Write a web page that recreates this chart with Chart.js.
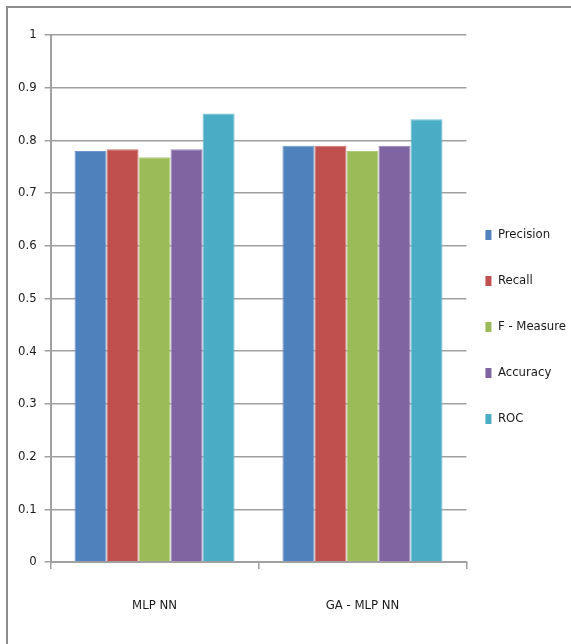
<!DOCTYPE html>
<html>
<head>
<meta charset="utf-8">
<script src="https://cdn.jsdelivr.net/npm/chart.js@4/dist/chart.umd.min.js"></script>
<style>
  html, body { margin: 0; padding: 0; background: #fff; }
  #wrap { position: relative; width: 571px; height: 644px; overflow: hidden; }
  #frame {
    position: absolute; left: 6px; top: 6px; width: 700px; height: 800px;
    border-top: 2px solid #8c8c8c; border-left: 2px solid #8c8c8c;
  }
  #c { position: absolute; left: 0; top: 0; }
</style>
</head>
<body>
<div id="wrap">
  <div id="frame"></div>
  <canvas id="c" width="571" height="644"></canvas>
</div>
<script>
// Classifier comparison: evaluation metrics per model
const categories = ['MLP NN', 'GA - MLP NN'];
const seriesNames = ['Precision', 'Recall', 'F - Measure', 'Accuracy', 'ROC'];
const precision = [0.780, 0.790];
const recall    = [0.783, 0.790];
const fMeasure  = [0.768, 0.780];
const accuracy  = [0.783, 0.790];
const roc       = [0.851, 0.840];
const yTickLabels = ['0', '0.1', '0.2', '0.3', '0.4', '0.5', '0.6', '0.7', '0.8', '0.9', '1'];

const seriesValues = [precision, recall, fMeasure, accuracy, roc];
const fills   = ['#4F81BD', '#C0504D', '#9BBB59', '#8064A2', '#4BACC6'];
const borders = ['#6E97CB', '#CD716E', '#B0CA7B', '#9982B6', '#70BFD4'];

const FONT = "'Liberation Sans Narrow', 'DejaVu Sans Condensed', 'Liberation Sans', sans-serif";
const GRID = '#a0a0a0';

const datasets = seriesNames.map((name, i) => ({
  label: name,
  data: seriesValues[i],
  backgroundColor: fills[i],
  borderColor: borders[i],
  borderWidth: 1,
  barPercentage: 1.0,
  categoryPercentage: 0.77
}));

new Chart(document.getElementById('c'), {
  type: 'bar',
  data: { labels: categories, datasets },
  options: {
    responsive: false,
    animation: false,
    layout: { padding: { left: 10, top: 35, right: -5, bottom: 11 } },
    plugins: {
      tooltip: { enabled: false },
      legend: {
        position: 'right',
        labels: {
          boxWidth: 6,
          boxHeight: 10,
          padding: 19,
          color: '#1a1a1a',
          font: { family: FONT, size: 13, lineHeight: 27 / 13 },
          generateLabels(chart) {
            const items = Chart.defaults.plugins.legend.labels.generateLabels(chart);
            return items.map(it => Object.assign(it, { text: [it.text], lineWidth: 0 }));
          }
        }
      }
    },
    scales: {
      x: {
        grid: {
          display: true, drawOnChartArea: false, drawTicks: true,
          tickLength: 17, tickBorderDash: [6, 100],
          color: GRID, lineWidth: 1.5, offset: true
        },
        border: { display: true, color: GRID, width: 2 },
        ticks: {
          color: '#1a1a1a', padding: 5,
          font: { family: FONT, size: 13, lineHeight: 44 / 13 }
        }
      },
      y: {
        min: 0, max: 1,
        grid: { color: GRID, lineWidth: 1.5, tickLength: 6 },
        border: { display: true, color: GRID, width: 2 },
        ticks: {
          stepSize: 0.1, padding: 8, color: '#1a1a1a',
          font: { family: FONT, size: 13 },
          callback: (v, i) => yTickLabels[i]
        }
      }
    }
  }
});
</script>
</body>
</html>
